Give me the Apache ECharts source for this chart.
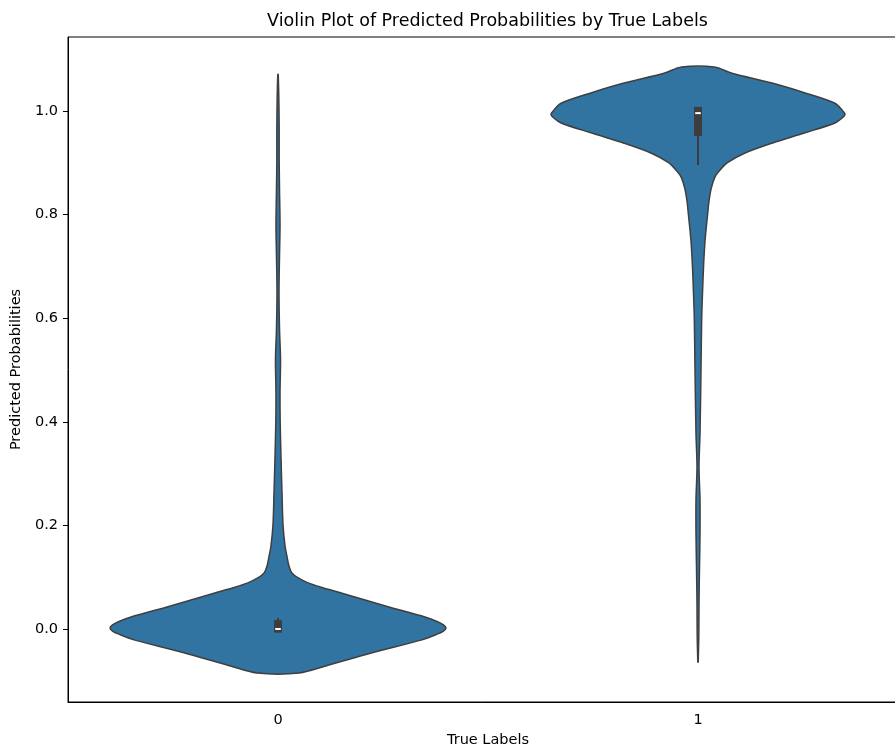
<!DOCTYPE html>
<html><head><meta charset="utf-8">
<script src="https://cdn.jsdelivr.net/npm/echarts@6/dist/echarts.min.js"></script>
<style>html,body{margin:0;padding:0;background:#fff}#c{width:895px;height:748px}</style>
</head><body><div id="c"></div>
<script>
// ---------- data ----------
const categories = ['0', '1'];
const yTicks = [0.0, 0.2, 0.4, 0.6, 0.8, 1.0];
const yMin = -0.141;
const yMax = 1.143;

// KDE profile for label 0 (value, relative density; 1 = widest violin)
const kdeY0 = [-0.085, -0.07, -0.046, -0.021, -0.011, -0.004, 0.002, 0.008, 0.014, 0.023, 0.043, 0.069, 0.08, 0.089, 0.1, 0.108, 0.117, 0.125, 0.139, 0.16, 0.2, 0.26, 0.33, 0.4, 0.455, 0.52, 0.58, 0.65, 0.72, 0.78, 0.85, 0.905, 0.96, 1.0, 1.04, 1.071];
const kdeD0 = [0.125, 0.298, 0.56, 0.857, 0.94, 0.985, 1.0, 0.985, 0.95, 0.875, 0.655, 0.381, 0.262, 0.179, 0.113, 0.083, 0.070, 0.0625, 0.054, 0.042, 0.030, 0.024, 0.018, 0.013, 0.012, 0.015, 0.009, 0.006, 0.009, 0.012, 0.009, 0.007, 0.007, 0.006, 0.004, 0.001];

// KDE profile for label 1
const kdeY1 = [-0.064, -0.008, 0.05, 0.12, 0.185, 0.249, 0.313, 0.378, 0.506, 0.6, 0.65, 0.7, 0.75, 0.8, 0.825, 0.85, 0.873, 0.886, 0.9, 0.919, 0.938, 0.958, 0.977, 0.987, 0.994, 1.001, 1.015, 1.035, 1.054, 1.073, 1.085];
const kdeD1 = [0.001, 0.005, 0.006, 0.009, 0.012, 0.012, 0.006, 0.012, 0.018, 0.022, 0.027, 0.033, 0.042, 0.057, 0.065, 0.078, 0.101, 0.131, 0.173, 0.280, 0.440, 0.637, 0.815, 0.860, 0.875, 0.860, 0.815, 0.637, 0.440, 0.202, 0.098];

// inner box stats: [whiskerLow, q1, median, q3, whiskerHigh]
const boxStats0 = [-0.007, -0.007, 0.0, 0.017, 0.021];
const boxStats1 = [0.896, 0.952, 0.996, 1.008, 1.008];

const kdeYs = [kdeY0, kdeY1];
const kdeDs = [kdeD0, kdeD1];
const boxes = [boxStats0, boxStats1];

// ---------- chart ----------
const chart = echarts.init(document.getElementById('c'), null, {renderer: 'canvas'});
const FONT = 'DejaVu Sans';
const FILL = '#3274a1';
const EDGE = '#3f3f3f';

function renderViolin(params, api) {
  const i = params.dataIndex;
  const ys = kdeYs[i], ds = kdeDs[i];
  const band = api.size([1, 0])[0];
  const cx = api.coord([i, 0])[0];
  const halfMax = band * 0.4;
  const right = [], left = [];
  for (let k = 0; k < ys.length; k++) {
    const py = api.coord([i, ys[k]])[1];
    right.push([cx + ds[k] * halfMax, py]);
    left.push([cx - ds[k] * halfMax, py]);
  }
  const pts = right.concat(left.reverse());
  const b = boxes[i];
  const yLo = api.coord([i, b[0]])[1], yQ1 = api.coord([i, b[1]])[1];
  const yMed = api.coord([i, b[2]])[1], yQ3 = api.coord([i, b[3]])[1];
  const yHi = api.coord([i, b[4]])[1];
  const bw = band * 0.019;
  return {
    type: 'group',
    children: [
      {type: 'polygon', shape: {points: pts, smooth: 0.3, smoothConstraint: false},
       style: {fill: FILL, stroke: EDGE, lineWidth: 1.5}},
      {type: 'line', shape: {x1: cx, y1: yLo, x2: cx, y2: yHi},
       style: {stroke: '#3d3d3d', lineWidth: 2}},
      {type: 'rect', shape: {x: cx - bw / 2, y: yQ3, width: bw, height: yQ1 - yQ3},
       style: {fill: '#3d3d3d'}},
      {type: 'line', shape: {x1: cx - bw * 0.35, y1: yMed, x2: cx + bw * 0.35, y2: yMed},
       style: {stroke: '#ffffff', lineWidth: 2}}
    ]
  };
}

const option = {
  animation: false,
  backgroundColor: '#ffffff',
  grid: {left: 68, top: 37, width: 840, height: 665, show: true, borderColor: '#000', borderWidth: 1,
    containLabel: false, outerBoundsMode: 'none'},
  graphic: [{
    type: 'text', x: 487.5, y: 21,
    style: {text: 'Violin Plot of Predicted Probabilities by True Labels', font: '17.5px "DejaVu Sans"', fill: '#000', textAlign: 'center', textVerticalAlign: 'middle'}
  }],
  xAxis: {
    type: 'category', data: categories, boundaryGap: true,
    name: 'True Labels', nameLocation: 'middle', nameGap: 30,
    nameTextStyle: {fontFamily: FONT, fontSize: 14.5, color: '#000'},
    axisLine: {onZero: false, lineStyle: {color: '#000', width: 1}},
    axisTick: {alignWithLabel: true, length: 5, lineStyle: {color: '#000', width: 1}},
    axisLabel: {fontFamily: FONT, fontSize: 14.5, color: '#000', margin: 11},
    splitLine: {show: false}
  },
  yAxis: {
    type: 'value', min: yMin, max: yMax,
    name: 'Predicted Probabilities', nameLocation: 'middle', nameGap: 42,
    nameTextStyle: {fontFamily: FONT, fontSize: 14.5, color: '#000'},
    axisLine: {show: true, onZero: false, lineStyle: {color: '#000', width: 1}},
    axisTick: {show: true, length: 5, customValues: yTicks, lineStyle: {color: '#000', width: 1}},
    axisLabel: {fontFamily: FONT, fontSize: 14.5, color: '#000', margin: 10, customValues: yTicks,
      formatter: v => Number(v).toFixed(1)},
    splitLine: {show: false}
  },
  series: [{
    type: 'custom',
    renderItem: renderViolin,
    data: categories.map((c, i) => [i]),
    encode: {x: 0},
    clip: false
  }]
};
chart.setOption(option);
</script>
</body></html>
